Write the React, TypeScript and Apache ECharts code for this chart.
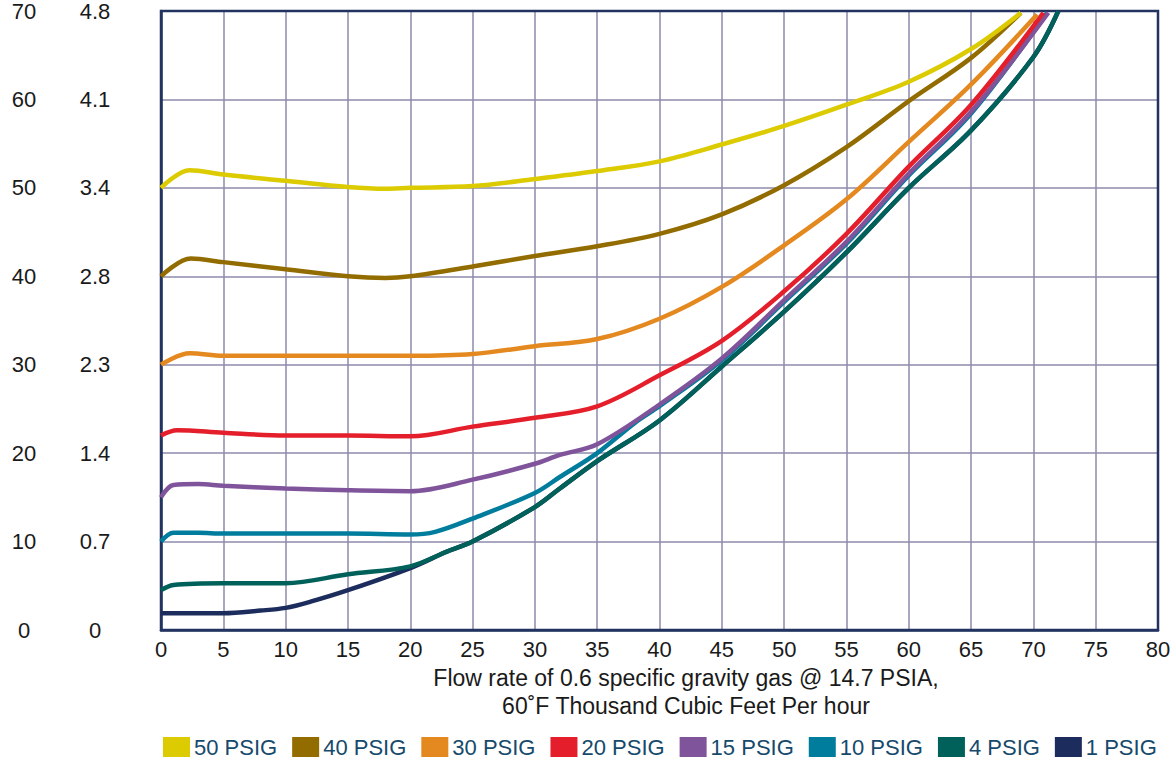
import React, { useEffect, useRef } from "react";
import * as echarts from "echarts";

const xTicks = [0, 5, 10, 15, 20, 25, 30, 35, 40, 45, 50, 55, 60, 65, 70, 75, 80];
const yLeftLabels = ["0", "10", "20", "30", "40", "50", "60", "70"];
const yKpaLabels = ["0", "0.7", "1.4", "2.3", "2.8", "3.4", "4.1", "4.8"];

const seriesNames = ["50 PSIG", "40 PSIG", "30 PSIG", "20 PSIG", "15 PSIG", "10 PSIG", "4 PSIG", "1 PSIG"];
const seriesColors = ["#dccb00", "#936c00", "#e4891f", "#e41f2b", "#80549b", "#007c9d", "#00605a", "#1c2c5c"];

const psig50 = [[0, 50.0], [2.3, 52.0], [5, 51.5], [10, 50.8], [15, 50.1], [18, 49.9], [20, 50.0], [25, 50.2], [30, 51.0], [35, 51.9], [40, 53.0], [45, 54.9], [50, 57.0], [55, 59.4], [60, 62.0], [65, 65.7], [69, 69.8]];
const psig40 = [[0, 40.0], [2.4, 42.0], [5, 41.6], [10, 40.8], [15, 40.0], [18, 39.8], [20, 40.0], [25, 41.1], [30, 42.3], [35, 43.4], [40, 44.8], [45, 47.0], [50, 50.3], [55, 54.6], [60, 59.8], [65, 64.7], [69, 69.8]];
const psig30 = [[0, 30.0], [2.3, 31.3], [5, 31.0], [10, 31.0], [15, 31.0], [20, 31.0], [25, 31.2], [30, 32.1], [35, 32.9], [40, 35.2], [45, 38.8], [50, 43.5], [55, 48.7], [60, 55.2], [65, 61.7], [70.3, 69.6]];
const psig20 = [[0, 22.0], [1.3, 22.6], [5, 22.3], [10, 22.0], [15, 22.0], [20, 21.9], [25, 23.0], [30, 24.0], [35, 25.3], [40, 28.8], [45, 32.7], [50, 38.3], [55, 44.8], [60, 52.4], [65, 59.4], [70.8, 69.8]];
const psig15 = [[0, 15.0], [1, 16.4], [3, 16.5], [5, 16.3], [10, 16.0], [15, 15.8], [20, 15.7], [25, 17.0], [30, 18.8], [32, 19.8], [35, 21.0], [40, 25.5], [45, 30.7], [50, 37.3], [55, 43.9], [60, 51.6], [65, 58.6], [71.2, 69.8]];
const psig10 = [[0, 10.0], [1, 11.0], [3, 11.0], [5, 10.9], [10, 10.9], [15, 10.9], [20, 10.8], [22, 11.1], [25, 12.6], [30, 15.5], [32, 17.3], [35, 20.0], [38, 23.4], [40, 25.3], [45, 30.5], [50, 37.1], [55, 43.7], [60, 51.4], [65, 58.4], [71.1, 69.8]];
const psig4 = [[0, 4.5], [1, 5.1], [5, 5.3], [10, 5.3], [15, 6.3], [20, 7.2], [23, 8.9], [25, 10.0], [30, 13.9], [32, 16.0], [35, 19.1], [40, 23.7], [45, 29.8], [50, 36.0], [55, 42.7], [60, 50.0], [65, 56.5], [70, 64.8], [72, 70]];
const psig1 = [[0, 1.9], [5, 1.9], [8, 2.2], [10, 2.5], [12, 3.2], [15, 4.5], [20, 7.0], [23, 8.9], [25, 10.0], [30, 13.9], [32, 16.0], [35, 19.1], [40, 23.7], [45, 29.8], [50, 36.0], [55, 42.7], [60, 50.0], [65, 56.5], [70, 64.8], [72, 70]];

const seriesData = [psig50, psig40, psig30, psig20, psig15, psig10, psig4, psig1];

const axisTitleLines = ["Flow rate of 0.6 specific gravity gas @ 14.7 PSIA,", "60˚F Thousand Cubic Feet Per hour"];

export default function App() {
  const ref = useRef<HTMLDivElement>(null);
  useEffect(() => {
    if (!ref.current) return;
    const chart = echarts.init(ref.current, null, { renderer: "svg" });
    const font = "'Liberation Sans', Arial, sans-serif";
    const series: any[] = [];
    // draw lowest pressure first so higher ones sit on top
    for (let i = seriesNames.length - 1; i >= 0; i--) {
      series.push({
        name: seriesNames[i],
        type: "line",
        data: seriesData[i],
        smooth: 0.35,
        showSymbol: false,
        symbol: "none",
        lineStyle: { color: seriesColors[i], width: 4.5 },
        itemStyle: { color: seriesColors[i] },
        clip: true,
      });
    }
    chart.setOption({
      animation: false,
      backgroundColor: "#ffffff",
      grid: {
        left: 161,
        right: 18,
        top: 7,
        bottom: 133,
        show: true,
        borderColor: "#22335f",
        borderWidth: 2.5,
        backgroundColor: "transparent",
        z: 3,
      },
      legend: {
        data: seriesNames,
        left: 163,
        top: 736,
        padding: 0,
        itemWidth: 27,
        itemHeight: 20,
        itemGap: 15,
        icon: "rect",
        textStyle: { color: "#164a6c", fontSize: 22, lineHeight: 22, fontFamily: font, padding: [0, 0, 0, -1] },
      },
      xAxis: {
        type: "value",
        min: 0,
        max: 80,
        interval: 5,
        axisLine: { show: true, lineStyle: { color: "#22335f", width: 2.5 } },
        axisTick: { show: false },
        splitLine: { show: true, lineStyle: { color: "#8d8bab", width: 1.5 } },
        axisLabel: {
          color: "#1a1a1a",
          fontSize: 22,
          fontFamily: font,
          margin: 8,
          formatter: (v: number) => String(xTicks[Math.round(v / 5)] ?? v),
        },
      },
      yAxis: [
        {
          type: "value",
          min: 0,
          max: 70,
          interval: 10,
          position: "left",
          axisLine: { show: true, lineStyle: { color: "#22335f", width: 2.5 } },
          axisTick: { show: false },
          splitLine: { show: true, lineStyle: { color: "#8d8bab", width: 1.5 } },
          axisLabel: {
            color: "#1a1a1a",
            fontSize: 22,
            fontFamily: font,
            align: "center",
            margin: 137,
            formatter: (v: number) => yLeftLabels[Math.round(v / 10)],
          },
        },
        {
          type: "value",
          min: 0,
          max: 70,
          interval: 10,
          position: "left",
          axisLine: { show: false },
          axisTick: { show: false },
          splitLine: { show: false },
          axisLabel: {
            color: "#1a1a1a",
            fontSize: 22,
            fontFamily: font,
            align: "center",
            margin: 66,
            formatter: (v: number) => yKpaLabels[Math.round(v / 10)],
          },
        },
      ],
      graphic: axisTitleLines.map((line, i) => ({
        type: "text",
        x: 686,
        y: 678 + i * 28,
        style: {
          text: line,
          fontSize: 23,
          fontFamily: font,
          fill: "#1a1a1a",
          align: "center",
          verticalAlign: "middle",
        },
      })),
      series,
    });
    return () => chart.dispose();
  }, []);
  return <div ref={ref} style={{ position: "fixed", left: 0, top: 0, width: 1176, height: 763 }} />;
}
